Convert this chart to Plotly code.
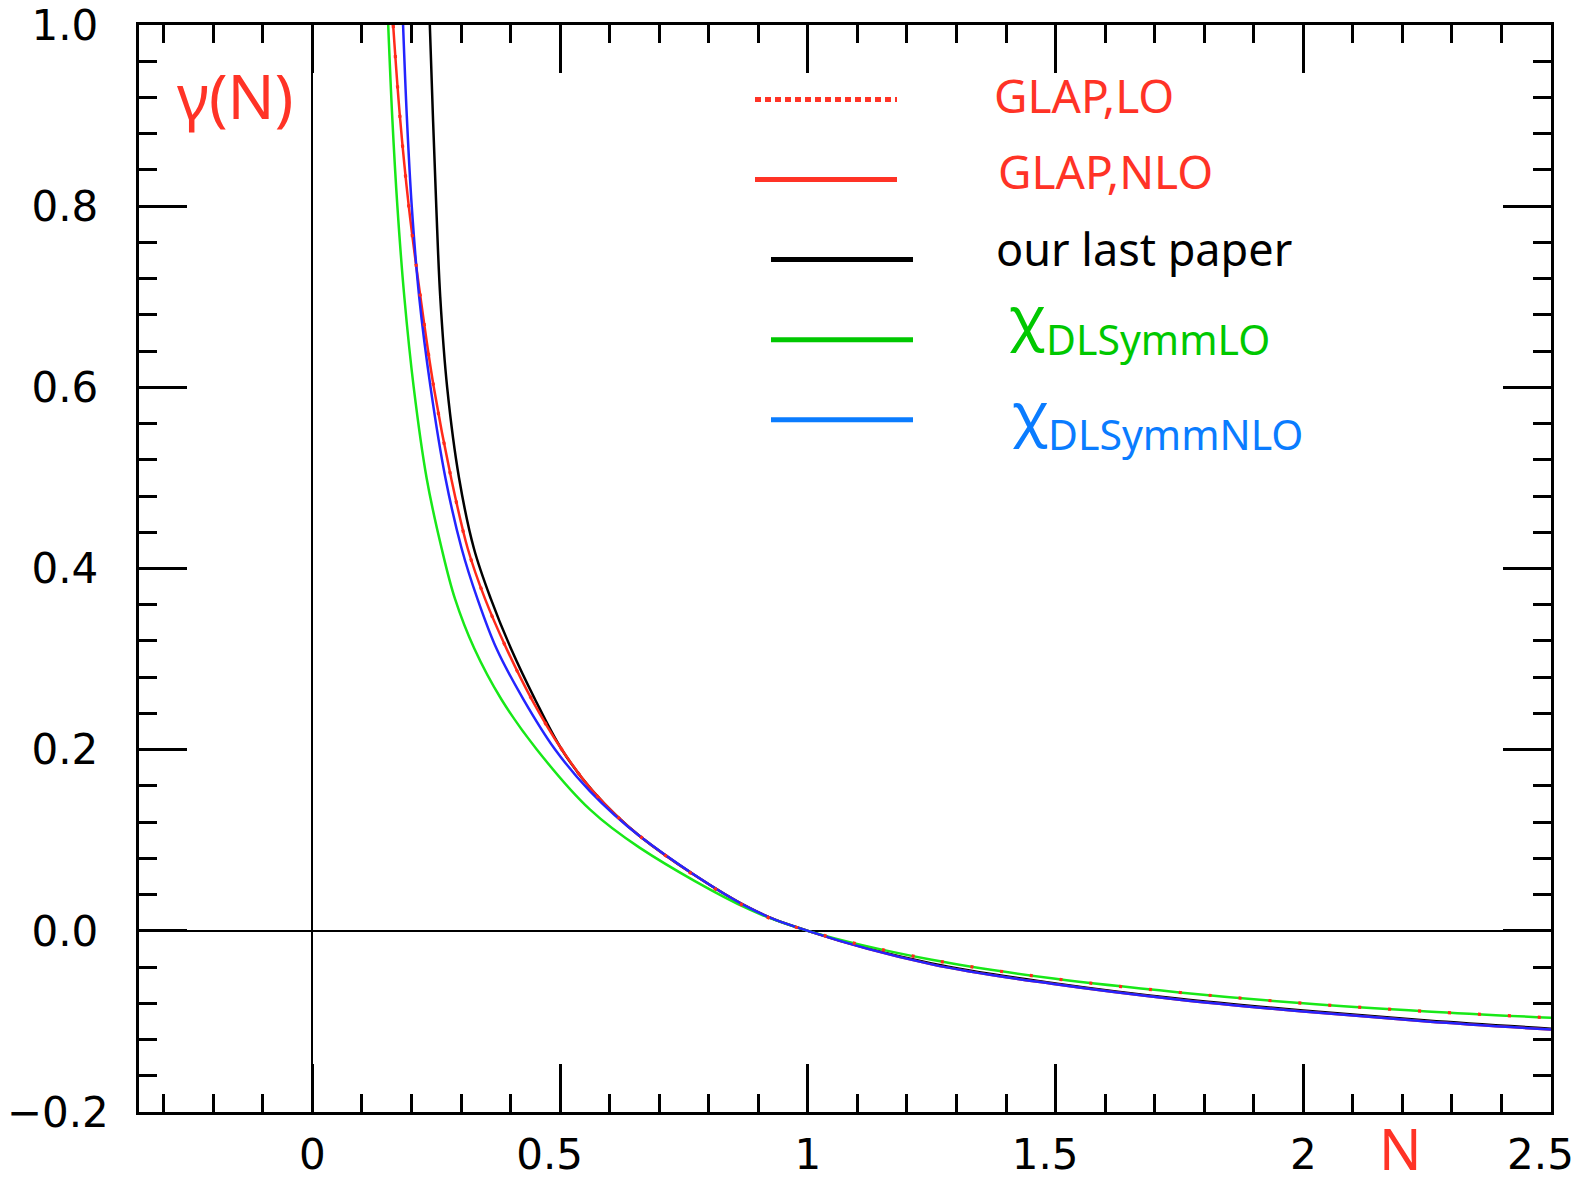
import plotly.graph_objects as go

# ---------------- data ----------------
N_black = [0.237, 0.2432, 0.250, 0.258, 0.272, 0.296, 0.326, 0.360, 0.401, 0.449, 0.503, 0.566, 0.661, 0.883, 1.0, 1.25, 1.5, 1.75, 2.0, 2.25, 2.5]
G_black = [1.000, 0.900, 0.800, 0.700, 0.600, 0.500, 0.4221, 0.3667, 0.3113, 0.2559, 0.2005, 0.1543, 0.1045, 0.025, 0.0, -0.036, -0.058, -0.075, -0.088, -0.099, -0.108]

N_glap_nlo = [0.163, 0.1765, 0.1945, 0.218, 0.245, 0.280, 0.3135, 0.3483, 0.392, 0.4424, 0.503, 0.566, 0.661, 0.883, 1.0, 1.25, 1.5, 1.75, 2.0, 2.25, 2.5]
G_glap_nlo = [1.000, 0.900, 0.800, 0.700, 0.600, 0.500, 0.4221, 0.3667, 0.3113, 0.2559, 0.2005, 0.1543, 0.1045, 0.025, 0.0, -0.037, -0.059, -0.076, -0.089, -0.100, -0.109]

N_glap_lo = [0.163, 0.1765, 0.1945, 0.218, 0.245, 0.280, 0.3135, 0.3483, 0.392, 0.4424, 0.503, 0.566, 0.661, 0.883, 1.0, 1.25, 1.5, 1.75, 2.0, 2.25, 2.5]
G_glap_lo = [1.000, 0.900, 0.800, 0.700, 0.600, 0.500, 0.4221, 0.3667, 0.3113, 0.2559, 0.2005, 0.1543, 0.1045, 0.024, 0.0, -0.032, -0.053, -0.068, -0.080, -0.089, -0.096]

N_dl_lo = [0.153, 0.161, 0.1715, 0.1855, 0.2045, 0.2305, 0.2609, 0.2877, 0.327, 0.381, 0.4525, 0.560, 0.661, 0.883, 1.0, 1.25, 1.5, 1.75, 2.0, 2.25, 2.5]
G_dl_lo = [1.000, 0.900, 0.800, 0.700, 0.600, 0.500, 0.4221, 0.3667, 0.3113, 0.2559, 0.2005, 0.134, 0.0916, 0.0233, 0.0, -0.032, -0.053, -0.068, -0.080, -0.089, -0.096]

N_dl_nlo = [0.183, 0.1905, 0.2005, 0.2155, 0.2385, 0.2685, 0.3012, 0.333, 0.3718, 0.4256, 0.4895, 0.560, 0.661, 0.883, 1.0, 1.25, 1.5, 1.75, 2.0, 2.25, 2.5]
G_dl_nlo = [1.000, 0.900, 0.800, 0.700, 0.600, 0.500, 0.4221, 0.3667, 0.3113, 0.2559, 0.2005, 0.1543, 0.1045, 0.025, 0.0, -0.037, -0.059, -0.076, -0.089, -0.100, -0.109]

x_range = [-0.35, 2.5]
y_range = [-0.2, 1.0]

x_decimal_labels = ["0.5", "1.5", "2.5"]
y_positive_labels = ["0.0", "0.2", "0.4", "0.6", "0.8", "1.0"]

legend_labels = ["GLAP,LO", "GLAP,NLO", "our last paper", "DLSymmLO", "DLSymmNLO"]

# ---------------- styling ----------------
PAGE_W, PAGE_H = 1590, 1178
OFF = 8                      # default body margin of the html page
W, H = PAGE_W - OFF, PAGE_H - OFF
L, R, T, B = 139, 1551, 25, 1112   # plot area in page pixels

RED_TXT = "#ff3326"
GREEN_TXT = "#00c800"
BLUE_TXT = "#0a7cff"
RED_LINE = "#ff2a1a"
GREEN_LINE = "#18e818"
BLUE_LINE = "#2424ff"

EN_SPACE = "\u2002"
QUARTER_SPACE = "\u2005"


def px(x):
    return (x - L) / (R - L)


def py(y):
    return (B - y) / (B - T)


fig = go.Figure()

lw = 2.5
fig.add_trace(go.Scatter(x=N_black, y=G_black, mode="lines", line=dict(color="black", width=lw, shape="spline"), showlegend=False))
fig.add_trace(go.Scatter(x=N_glap_nlo, y=G_glap_nlo, mode="lines", line=dict(color=RED_LINE, width=lw, shape="spline"), showlegend=False))
fig.add_trace(go.Scatter(x=N_dl_lo, y=G_dl_lo, mode="lines", line=dict(color=GREEN_LINE, width=lw, shape="spline"), showlegend=False))
fig.add_trace(go.Scatter(x=N_dl_nlo, y=G_dl_nlo, mode="lines", line=dict(color=BLUE_LINE, width=lw, shape="spline"), showlegend=False))
fig.add_trace(go.Scatter(x=N_glap_lo, y=G_glap_lo, mode="lines", line=dict(color=RED_LINE, width=3.2, dash="3px,27px", shape="spline"), showlegend=False))

tickfont = dict(family="DejaVu Sans", size=42, color="black")

fig.update_xaxes(
    range=x_range, tick0=0, dtick=0.5, ticks="inside", ticklen=48, tickwidth=2.5, tickcolor="black",
    showline=True, linewidth=2.5, linecolor="black", mirror="ticks", showgrid=False,
    zeroline=True, zerolinecolor="black", zerolinewidth=2,
    tickfont=tickfont, ticklabelstandoff=4, automargin=False, ticklabeloverflow="allow",
    labelalias={lab: lab + EN_SPACE for lab in x_decimal_labels},
    minor=dict(tick0=0, dtick=0.1, ticks="inside", ticklen=18, tickwidth=2.5, tickcolor="black", showgrid=False),
)
fig.update_yaxes(
    range=y_range, tick0=0, dtick=0.2, tickformat=".1f", ticks="inside", ticklen=48, tickwidth=2.5, tickcolor="black",
    showline=True, linewidth=2.5, linecolor="black", mirror="ticks", showgrid=False,
    zeroline=True, zerolinecolor="black", zerolinewidth=2,
    tickfont=tickfont, ticklabelstandoff=19, automargin=False, ticklabeloverflow="allow",
    labelalias={lab: lab + QUARTER_SPACE for lab in y_positive_labels},
    minor=dict(tick0=0, dtick=0.04, ticks="inside", ticklen=18, tickwidth=2.5, tickcolor="black", showgrid=False),
)

# legend samples
shapes = []
legend_rows = [
    (755, 897, 99.4, RED_TXT, "6px,4px"),
    (755, 897, 179.5, RED_TXT, "solid"),
    (771, 913, 259.6, "black", "solid"),
    (771, 913, 339.7, GREEN_TXT, "solid"),
    (771, 913, 419.8, BLUE_TXT, "solid"),
]
for x0, x1, yy, col, dash in legend_rows:
    shapes.append(dict(type="line", xref="paper", yref="paper", x0=px(x0), x1=px(x1), y0=py(yy), y1=py(yy),
                       line=dict(color=col, width=5, dash=dash)))

font_txt = "Noto Sans"
annotations = []


def add_text(text, x, y, size, color, xanchor="left"):
    annotations.append(dict(text=text, x=px(x), y=py(y), xref="paper", yref="paper", xanchor=xanchor, yanchor="middle",
                            showarrow=False, font=dict(family=font_txt, size=size, color=color)))


add_text(legend_labels[0], 992, 95, 46, RED_TXT)
add_text(legend_labels[1], 996, 171, 46, RED_TXT)
add_text(legend_labels[2], 994, 248, 45, "black")
add_text("χ", 1007, 316, 60, GREEN_TXT)
add_text(legend_labels[3], 1044, 339, 41, GREEN_TXT)
add_text("χ", 1010, 412, 60, BLUE_TXT)
add_text(legend_labels[4], 1046, 434, 41, BLUE_TXT)

add_text("γ(N)", 175, 95, 62, RED_TXT)
add_text("N", 1400, 1148, 56, RED_TXT, xanchor="center")

fig.update_layout(
    width=W, height=H, autosize=False,
    margin=dict(l=L - OFF, r=W - (R - OFF), t=T - OFF, b=H - (B - OFF)),
    plot_bgcolor="white", paper_bgcolor="white",
    shapes=shapes, annotations=annotations, showlegend=False,
)

fig.write_html("out.html")
